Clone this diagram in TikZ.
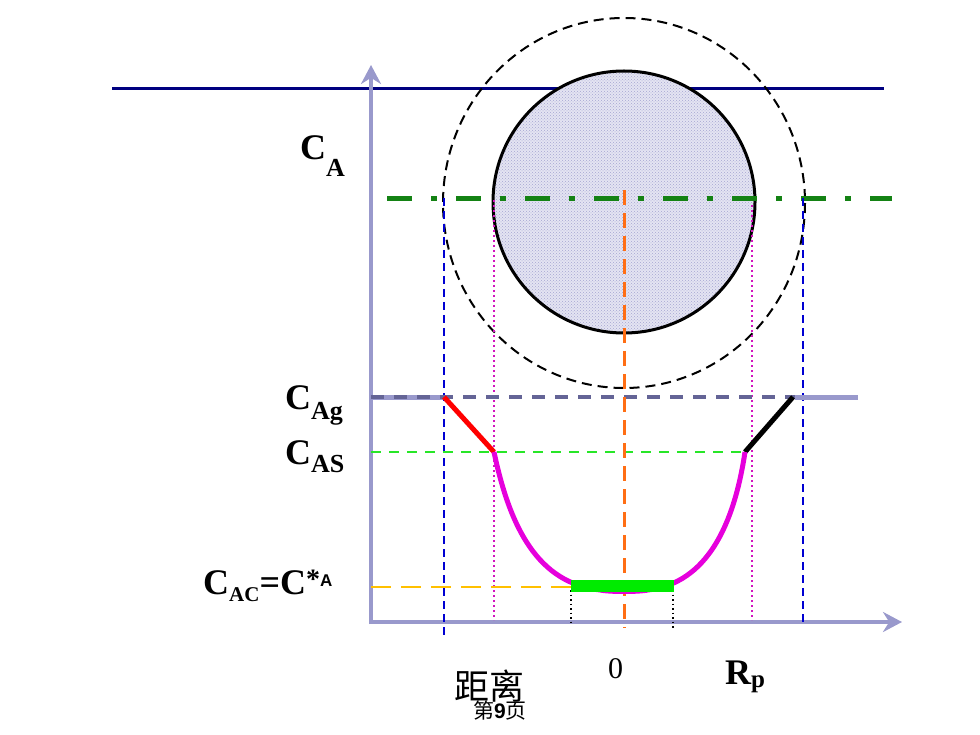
\documentclass[tikz,border=0pt]{standalone}
\usepackage{fontspec}
\setmainfont{Liberation Serif}
\newfontfamily\cjk{Noto Sans CJK SC}
\newfontfamily\lsans{Liberation Sans}
\usetikzlibrary{arrows.meta,patterns}
\definecolor{axisc}{RGB}{153,153,204}
\definecolor{navyc}{RGB}{0,0,128}
\definecolor{gasc}{RGB}{100,100,150}
\definecolor{dgreen}{RGB}{20,130,20}
\definecolor{lgreen}{RGB}{40,230,40}
\definecolor{bgreen}{RGB}{0,235,0}
\definecolor{orangec}{RGB}{255,110,20}
\definecolor{yellowc}{RGB}{255,192,0}
\definecolor{bluec}{RGB}{0,0,210}
\definecolor{magc}{RGB}{230,0,220}
\definecolor{pinkc}{RGB}{210,20,190}
\definecolor{fillc}{RGB}{228,228,242}
\definecolor{dotc}{RGB}{165,165,210}
\begin{document}
\begin{tikzpicture}[x=1pt,y=-1pt,>={Stealth[length=19pt,width=20pt]},
  lab/.style={anchor=base west,inner sep=0pt,font=\fontsize{36}{38}\selectfont\bfseries}]
\useasboundingbox (0,0) rectangle (980,735);
\draw[navyc,line width=3pt](112,89)--(884,89);
\draw[axisc,line width=4pt,->](371,624)--(371,65);
\draw[axisc,line width=4pt,->](369,622)--(902,622);
% particle
\fill[fillc](624,202) circle (131);
\fill[pattern=crosshatch dots,pattern color=dotc](624,202) circle (131);
\draw[line width=3pt](624,202) circle (131);
\draw[line width=2pt,dash pattern=on 10pt off 6pt](624,203) circle [x radius=181,y radius=185];
\draw[dgreen,line width=5pt,dash pattern=on 25pt off 19pt on 6pt off 19pt](387,199)--(892,199);
% guide lines
\draw[bluec,line width=1.5pt,dash pattern=on 8pt off 5pt](444,198)--(444,636);
\draw[bluec,line width=1.5pt,dash pattern=on 8pt off 5pt](803,198)--(803,624);
\draw[pinkc,line width=2pt,dash pattern=on 2pt off 3pt](494,200)--(494,620);
\draw[pinkc,line width=2pt,dash pattern=on 2pt off 3pt](752,205)--(752,620);
\draw[axisc,line width=5pt](371,397)--(444,397) (795,397)--(858,397);
\draw[gasc,line width=4pt,dash pattern=on 13pt off 10pt](371,397)--(795,397);
\draw[lgreen,line width=2pt,dash pattern=on 10pt off 8pt](371,452)--(745,452);
\draw[yellowc,line width=2.5pt,dash pattern=on 20pt off 10pt](371,587)--(572,587);
\draw[orangec,line width=3pt,dash pattern=on 15pt off 8pt](624,190)--(624,628);
% profile
\coordinate (g1) at (444,397);
\coordinate (s1) at (494,452);
\coordinate (s2) at (745,452);
\coordinate (g2) at (793,397);
\draw[red,line width=5pt](g1)--(s1);
\draw[line width=5pt](s2)--(g2);
\draw[magc,line width=5pt,line join=round](s1) .. controls (510,528) and (538,583) .. (600,590)
  .. controls (610,592) and (638,592) .. (648,590) .. controls (707,583) and (734,525) .. (s2);
\draw[black,line width=1.5pt,dash pattern=on 1.5pt off 3pt](571,590)--(571,626) (673,590)--(673,628);
\draw[bgreen,line width=12pt](571,586)--(674,586);
% labels
\node[lab] (ca) at (300,160) {C\raisebox{-17pt}{\fontsize{26}{26}\selectfont A}};
\node[lab] (cag) at (285,409) {C\raisebox{-10pt}{\fontsize{26}{26}\selectfont Ag}};
\node[lab] (cas) at (285,464) {C\raisebox{-8pt}{\fontsize{26}{26}\selectfont AS}};
\node[lab] (cac) at (203,594) {C\raisebox{-7pt}{\fontsize{21}{21}\selectfont AC}=C\raisebox{6pt}{\fontsize{28}{28}\selectfont *}\raisebox{8pt}{\lsans\fontsize{17}{17}\selectfont A}};
\node[anchor=base west,inner sep=0pt,font=\fontsize{30}{32}\selectfont] (zero) at (608,678) {0};
\node[lab] (rp) at (725,684) {R\raisebox{-3pt}{\fontsize{25}{25}\selectfont p}};
\node[anchor=base west,inner sep=0pt,font=\cjk\fontsize{35}{36}\selectfont] (dist) at (454,699) {距离};
\node[anchor=base west,inner sep=0pt,font=\cjk\fontsize{21}{22}\selectfont] (page) at (473,718) {第{\lsans\bfseries 9}页};
\end{tikzpicture}
\end{document}
